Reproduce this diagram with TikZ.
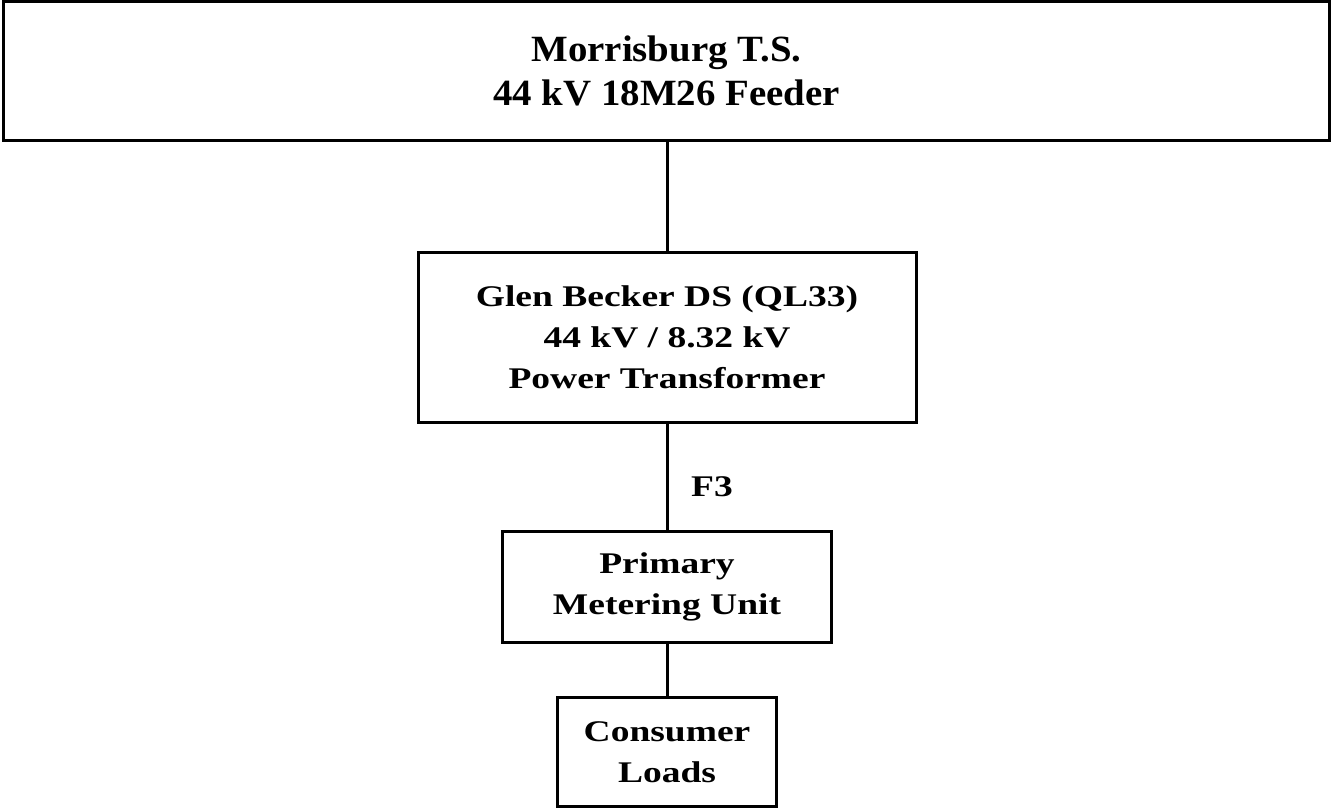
\documentclass[tikz,border=0pt]{standalone}
\usepackage{fontspec}
\setmainfont{Liberation Serif}
\newfontfamily\boxfont[FakeStretch=1.25]{Liberation Serif}
\newfontfamily\titlefont[FakeStretch=1.05]{Liberation Serif}
\begin{document}
\begin{tikzpicture}[x=1pt,y=-1pt,line width=3pt,
  unitbox/.style={draw,align=center,inner sep=0pt,font=\boxfont\bfseries\fontsize{30}{41}\selectfont}]
\useasboundingbox (0,0) rectangle (1332,809);
\node[unitbox,minimum width=1326pt,minimum height=139pt,font=\titlefont\bfseries\fontsize{37}{44}\selectfont] (ts) at (666.5,71) {Morrisburg T.S.\\44 kV 18M26 Feeder};
\node[unitbox,minimum width=498pt,minimum height=170pt] (ds) at (667,337) {Glen Becker DS (QL33)\\44 kV / 8.32 kV\\Power Transformer};
\node[unitbox,minimum width=329pt,minimum height=111pt] (pmu) at (667,586.5) {Primary\\Metering Unit};
\node[unitbox,minimum width=219pt,minimum height=109pt] (load) at (667,752) {Consumer\\Loads};
\node[font=\boxfont\bfseries\fontsize{30}{41}\selectfont] (f3) at (712,487) {F3};

\draw (ds.north) -- (ds.north |- ts.south);
\draw (ds) -- (pmu);
\draw (pmu) -- (load);
\end{tikzpicture}
\end{document}
